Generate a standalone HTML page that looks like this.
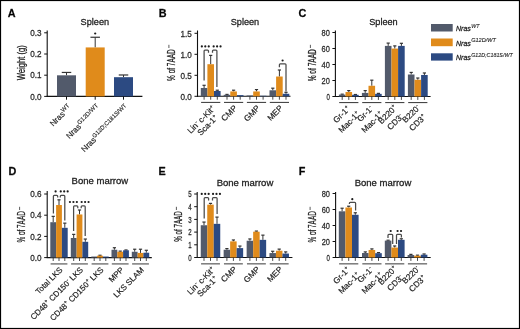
<!DOCTYPE html>
<html><head><meta charset="utf-8"><style>
html,body{margin:0;padding:0;background:#fff;}
body{width:520px;height:329px;overflow:hidden;font-family:"Liberation Sans", sans-serif;}
svg{display:block;will-change:transform;}
text{stroke:#222;stroke-width:0.28px;stroke-linejoin:round;}
</style></head><body>
<svg width="520" height="329" viewBox="0 0 520 329" font-family='"Liberation Sans", sans-serif'>
<rect x="0" y="0" width="520" height="329" fill="#fff"/>
<rect x="0.5" y="0.5" width="519" height="328" fill="none" stroke="#000" stroke-width="1.2"/>
<text x="7.8" y="16.8" font-size="11.8" font-weight="bold" fill="#000" transform="translate(7.8,0) scale(0.92,1) translate(-7.8,0)">A</text>
<text x="158.8" y="16.8" font-size="11.8" font-weight="bold" fill="#000" transform="translate(158.8,0) scale(0.92,1) translate(-158.8,0)">B</text>
<text x="298.6" y="16.9" font-size="11.8" font-weight="bold" fill="#000" transform="translate(298.6,0) scale(0.92,1) translate(-298.6,0)">C</text>
<text x="8.6" y="174.8" font-size="11.8" font-weight="bold" fill="#000" transform="translate(8.6,0) scale(0.92,1) translate(-8.6,0)">D</text>
<text x="158.6" y="174.9" font-size="11.8" font-weight="bold" fill="#000" transform="translate(158.6,0) scale(0.92,1) translate(-158.6,0)">E</text>
<text x="298.8" y="174.8" font-size="11.8" font-weight="bold" fill="#000" transform="translate(298.8,0) scale(0.92,1) translate(-298.8,0)">F</text>
<text x="80.6" y="24.5" font-size="9.6" text-anchor="start" font-weight="normal" font-style="normal" fill="#222" textLength="28.5" lengthAdjust="spacingAndGlyphs">Spleen</text>
<text x="230.7" y="24.7" font-size="9.6" text-anchor="start" font-weight="normal" font-style="normal" fill="#222" textLength="28.5" lengthAdjust="spacingAndGlyphs">Spleen</text>
<text x="369.2" y="24.7" font-size="9.6" text-anchor="start" font-weight="normal" font-style="normal" fill="#222" textLength="28.5" lengthAdjust="spacingAndGlyphs">Spleen</text>
<text x="71.6" y="183.5" font-size="9.6" text-anchor="start" font-weight="normal" font-style="normal" fill="#222" textLength="56.6" lengthAdjust="spacingAndGlyphs">Bone marrow</text>
<text x="216.7" y="186.1" font-size="9.6" text-anchor="start" font-weight="normal" font-style="normal" fill="#222" textLength="56.6" lengthAdjust="spacingAndGlyphs">Bone marrow</text>
<text x="354.7" y="186.1" font-size="9.6" text-anchor="start" font-weight="normal" font-style="normal" fill="#222" textLength="56.6" lengthAdjust="spacingAndGlyphs">Bone marrow</text>
<line x1="47.2" y1="30.5" x2="47.2" y2="96.9" stroke="#111" stroke-width="1.1"/>
<line x1="46.7" y1="96.4" x2="142.4" y2="96.4" stroke="#111" stroke-width="1.1"/>
<line x1="44.2" y1="96.4" x2="47.2" y2="96.4" stroke="#111" stroke-width="1"/>
<text x="41.6" y="99.60000000000001" font-size="9.2" text-anchor="end" font-weight="normal" font-style="normal" fill="#333" textLength="11.3" lengthAdjust="spacingAndGlyphs">0.0</text>
<line x1="44.2" y1="75.2" x2="47.2" y2="75.2" stroke="#111" stroke-width="1"/>
<text x="41.6" y="78.4" font-size="9.2" text-anchor="end" font-weight="normal" font-style="normal" fill="#333" textLength="11.3" lengthAdjust="spacingAndGlyphs">0.1</text>
<line x1="44.2" y1="54.0" x2="47.2" y2="54.0" stroke="#111" stroke-width="1"/>
<text x="41.6" y="57.2" font-size="9.2" text-anchor="end" font-weight="normal" font-style="normal" fill="#333" textLength="11.3" lengthAdjust="spacingAndGlyphs">0.2</text>
<line x1="44.2" y1="32.80000000000001" x2="47.2" y2="32.80000000000001" stroke="#111" stroke-width="1"/>
<text x="41.6" y="36.000000000000014" font-size="9.2" text-anchor="end" font-weight="normal" font-style="normal" fill="#333" textLength="11.3" lengthAdjust="spacingAndGlyphs">0.3</text>
<line x1="66.5" y1="75.30600000000001" x2="66.5" y2="72.444" stroke="#333" stroke-width="1"/>
<line x1="61.75" y1="72.444" x2="71.25" y2="72.444" stroke="#333" stroke-width="1.2"/>
<rect x="57.00" y="75.31" width="19.00" height="21.09" fill="#525a6b"/>
<line x1="66.5" y1="96.4" x2="66.5" y2="99.7" stroke="#111" stroke-width="1"/>
<line x1="95.2" y1="47.428000000000004" x2="95.2" y2="37.252" stroke="#333" stroke-width="1"/>
<line x1="90.45" y1="37.252" x2="99.95" y2="37.252" stroke="#333" stroke-width="1.2"/>
<rect x="85.70" y="47.43" width="19.00" height="48.97" fill="#e08b1b"/>
<line x1="95.2" y1="96.4" x2="95.2" y2="99.7" stroke="#111" stroke-width="1"/>
<line x1="123.5" y1="77.1928" x2="123.5" y2="74.988" stroke="#333" stroke-width="1"/>
<line x1="118.75" y1="74.988" x2="128.25" y2="74.988" stroke="#333" stroke-width="1.2"/>
<rect x="114.00" y="77.19" width="19.00" height="19.21" fill="#2c4a82"/>
<line x1="123.5" y1="96.4" x2="123.5" y2="99.7" stroke="#111" stroke-width="1"/>
<circle cx="95.20" cy="33.50" r="1.1" fill="#1a1a1a"/>
<g transform="translate(25.0,80.3) rotate(-90)"><text x="0" y="0" font-size="10" fill="#222" textLength="35" lengthAdjust="spacingAndGlyphs">Weight (g)</text></g>
<g transform="translate(72.0,108.0) rotate(-45)">
<text x="0" y="0" font-size="8.1" text-anchor="end" fill="#222" style="stroke-width:0.18px">Nras<tspan font-size="6.1" style="baseline-shift:3.0px;stroke-width:0.12px">WT</tspan></text>
</g>
<g transform="translate(100.7,108.0) rotate(-45)">
<text x="0" y="0" font-size="8.1" text-anchor="end" fill="#222" style="stroke-width:0.18px">Nras<tspan font-size="6.1" style="baseline-shift:3.0px;stroke-width:0.12px">G12D/WT</tspan></text>
</g>
<g transform="translate(129.0,108.0) rotate(-45)">
<text x="0" y="0" font-size="8.1" text-anchor="end" fill="#222" style="stroke-width:0.18px">Nras<tspan font-size="5.9" style="baseline-shift:3.0px;stroke-width:0.12px">G12D;C181S/WT</tspan></text>
</g>
<line x1="197.5" y1="30.5" x2="197.5" y2="96.8" stroke="#111" stroke-width="1.1"/>
<line x1="197.0" y1="96.3" x2="290.5" y2="96.3" stroke="#111" stroke-width="1.1"/>
<line x1="194.5" y1="96.3" x2="197.5" y2="96.3" stroke="#111" stroke-width="1"/>
<text x="191.9" y="99.5" font-size="9.2" text-anchor="end" font-weight="normal" font-style="normal" fill="#333" textLength="11.3" lengthAdjust="spacingAndGlyphs">0.0</text>
<line x1="194.5" y1="75.3" x2="197.5" y2="75.3" stroke="#111" stroke-width="1"/>
<text x="191.9" y="78.5" font-size="9.2" text-anchor="end" font-weight="normal" font-style="normal" fill="#333" textLength="11.3" lengthAdjust="spacingAndGlyphs">0.5</text>
<line x1="194.5" y1="54.3" x2="197.5" y2="54.3" stroke="#111" stroke-width="1"/>
<text x="191.9" y="57.5" font-size="9.2" text-anchor="end" font-weight="normal" font-style="normal" fill="#333" textLength="11.3" lengthAdjust="spacingAndGlyphs">1.0</text>
<line x1="194.5" y1="33.3" x2="197.5" y2="33.3" stroke="#111" stroke-width="1"/>
<text x="191.9" y="36.5" font-size="9.2" text-anchor="end" font-weight="normal" font-style="normal" fill="#333" textLength="11.3" lengthAdjust="spacingAndGlyphs">1.5</text>
<line x1="204.1" y1="87.984" x2="204.1" y2="85.29599999999999" stroke="#333" stroke-width="1"/>
<line x1="202.5" y1="85.29599999999999" x2="205.7" y2="85.29599999999999" stroke="#333" stroke-width="1.2"/>
<rect x="200.80" y="87.98" width="6.60" height="8.32" fill="#525a6b"/>
<line x1="204.1" y1="96.3" x2="204.1" y2="99.7" stroke="#2a2a2a" stroke-width="0.85"/>
<line x1="210.7" y1="64.21199999999999" x2="210.7" y2="55.391999999999996" stroke="#333" stroke-width="1"/>
<line x1="209.1" y1="55.391999999999996" x2="212.29999999999998" y2="55.391999999999996" stroke="#333" stroke-width="1.2"/>
<rect x="207.40" y="64.21" width="6.60" height="32.09" fill="#e08b1b"/>
<line x1="210.7" y1="96.3" x2="210.7" y2="99.7" stroke="#2a2a2a" stroke-width="0.85"/>
<line x1="217.29999999999998" y1="91.008" x2="217.29999999999998" y2="90.21" stroke="#333" stroke-width="1"/>
<line x1="215.7" y1="90.21" x2="218.89999999999998" y2="90.21" stroke="#333" stroke-width="1.2"/>
<rect x="214.00" y="91.01" width="6.60" height="5.29" fill="#2c4a82"/>
<line x1="217.29999999999998" y1="96.3" x2="217.29999999999998" y2="99.7" stroke="#2a2a2a" stroke-width="0.85"/>
<line x1="201.1" y1="102.39999999999999" x2="220.29999999999998" y2="102.39999999999999" stroke="#333" stroke-width="1.0"/>
<line x1="227.0" y1="94.83" x2="227.0" y2="94.41" stroke="#333" stroke-width="1"/>
<line x1="225.4" y1="94.41" x2="228.6" y2="94.41" stroke="#333" stroke-width="1.2"/>
<rect x="223.70" y="94.83" width="6.60" height="1.47" fill="#525a6b"/>
<line x1="227.0" y1="96.3" x2="227.0" y2="99.7" stroke="#2a2a2a" stroke-width="0.85"/>
<line x1="233.6" y1="91.428" x2="233.6" y2="90.21" stroke="#333" stroke-width="1"/>
<line x1="232.0" y1="90.21" x2="235.2" y2="90.21" stroke="#333" stroke-width="1.2"/>
<rect x="230.30" y="91.43" width="6.60" height="4.87" fill="#e08b1b"/>
<line x1="233.6" y1="96.3" x2="233.6" y2="99.7" stroke="#2a2a2a" stroke-width="0.85"/>
<rect x="236.90" y="95.12" width="6.60" height="1.18" fill="#2c4a82"/>
<line x1="240.2" y1="96.3" x2="240.2" y2="99.7" stroke="#2a2a2a" stroke-width="0.85"/>
<line x1="224.0" y1="102.39999999999999" x2="243.2" y2="102.39999999999999" stroke="#333" stroke-width="1.0"/>
<rect x="246.60" y="95.46" width="6.60" height="0.84" fill="#525a6b"/>
<line x1="249.9" y1="96.3" x2="249.9" y2="99.7" stroke="#2a2a2a" stroke-width="0.85"/>
<line x1="256.5" y1="91.428" x2="256.5" y2="89.58" stroke="#333" stroke-width="1"/>
<line x1="254.9" y1="89.58" x2="258.1" y2="89.58" stroke="#333" stroke-width="1.2"/>
<rect x="253.20" y="91.43" width="6.60" height="4.87" fill="#e08b1b"/>
<line x1="256.5" y1="96.3" x2="256.5" y2="99.7" stroke="#2a2a2a" stroke-width="0.85"/>
<rect x="259.80" y="95.80" width="6.60" height="0.50" fill="#2c4a82"/>
<line x1="263.1" y1="96.3" x2="263.1" y2="99.7" stroke="#2a2a2a" stroke-width="0.85"/>
<line x1="246.9" y1="102.39999999999999" x2="266.09999999999997" y2="102.39999999999999" stroke="#333" stroke-width="1.0"/>
<line x1="272.79999999999995" y1="90.294" x2="272.79999999999995" y2="88.194" stroke="#333" stroke-width="1"/>
<line x1="271.19999999999993" y1="88.194" x2="274.4" y2="88.194" stroke="#333" stroke-width="1.2"/>
<rect x="269.50" y="90.29" width="6.60" height="6.01" fill="#525a6b"/>
<line x1="272.79999999999995" y1="96.3" x2="272.79999999999995" y2="99.7" stroke="#2a2a2a" stroke-width="0.85"/>
<line x1="279.4" y1="76.518" x2="279.4" y2="70.008" stroke="#333" stroke-width="1"/>
<line x1="277.79999999999995" y1="70.008" x2="281.0" y2="70.008" stroke="#333" stroke-width="1.2"/>
<rect x="276.10" y="76.52" width="6.60" height="19.78" fill="#e08b1b"/>
<line x1="279.4" y1="96.3" x2="279.4" y2="99.7" stroke="#2a2a2a" stroke-width="0.85"/>
<line x1="286.0" y1="93.78" x2="286.0" y2="92.31" stroke="#333" stroke-width="1"/>
<line x1="284.4" y1="92.31" x2="287.6" y2="92.31" stroke="#333" stroke-width="1.2"/>
<rect x="282.70" y="93.78" width="6.60" height="2.52" fill="#2c4a82"/>
<line x1="286.0" y1="96.3" x2="286.0" y2="99.7" stroke="#2a2a2a" stroke-width="0.85"/>
<line x1="269.8" y1="102.39999999999999" x2="288.99999999999994" y2="102.39999999999999" stroke="#333" stroke-width="1.0"/>
<path d="M204.1,80.5 L204.1,51.1 Q204.1,50.2 205.0,50.2 L207.6,50.2 Q208.5,50.2 208.5,51.1 L208.5,52.8" fill="none" stroke="#4a4a4a" stroke-width="1.25"/>
<path d="M212.5,52.8 L212.5,51.1 Q212.5,50.2 213.4,50.2 L216.0,50.2 Q216.9,50.2 216.9,51.1 L216.9,86.9" fill="none" stroke="#4a4a4a" stroke-width="1.25"/>
<circle cx="201.85" cy="46.40" r="1.1" fill="#1a1a1a"/>
<circle cx="205.30" cy="46.40" r="1.1" fill="#1a1a1a"/>
<circle cx="208.75" cy="46.40" r="1.1" fill="#1a1a1a"/>
<circle cx="213.65" cy="46.40" r="1.1" fill="#1a1a1a"/>
<circle cx="217.10" cy="46.40" r="1.1" fill="#1a1a1a"/>
<circle cx="220.55" cy="46.40" r="1.1" fill="#1a1a1a"/>
<path d="M279.4,67.2 L279.4,64.7 Q279.4,63.8 280.29999999999995,63.8 L285.1,63.8 Q286.0,63.8 286.0,64.7 L286.0,91.6" fill="none" stroke="#4a4a4a" stroke-width="1.25"/>
<circle cx="282.60" cy="60.50" r="1.1" fill="#1a1a1a"/>
<g transform="translate(174.5,80.9) rotate(-90)">
<text x="0" y="0" font-size="10.8" fill="#222" textLength="31.70" lengthAdjust="spacingAndGlyphs">% of 7AAD</text>
<line x1="32.90" y1="-5.6" x2="36.10" y2="-5.6" stroke="#333" stroke-width="0.8"/>
</g>
<line x1="335.4" y1="30.5" x2="335.4" y2="97.0" stroke="#111" stroke-width="1.1"/>
<line x1="334.9" y1="96.5" x2="430.6" y2="96.5" stroke="#111" stroke-width="1.1"/>
<line x1="332.4" y1="96.5" x2="335.4" y2="96.5" stroke="#111" stroke-width="1"/>
<text x="329.79999999999995" y="99.7" font-size="9.2" text-anchor="end" font-weight="normal" font-style="normal" fill="#333" textLength="3.4" lengthAdjust="spacingAndGlyphs">0</text>
<line x1="332.4" y1="80.5" x2="335.4" y2="80.5" stroke="#111" stroke-width="1"/>
<text x="329.79999999999995" y="83.7" font-size="9.2" text-anchor="end" font-weight="normal" font-style="normal" fill="#333" textLength="8.3" lengthAdjust="spacingAndGlyphs">20</text>
<line x1="332.4" y1="64.5" x2="335.4" y2="64.5" stroke="#111" stroke-width="1"/>
<text x="329.79999999999995" y="67.7" font-size="9.2" text-anchor="end" font-weight="normal" font-style="normal" fill="#333" textLength="8.3" lengthAdjust="spacingAndGlyphs">40</text>
<line x1="332.4" y1="48.5" x2="335.4" y2="48.5" stroke="#111" stroke-width="1"/>
<text x="329.79999999999995" y="51.7" font-size="9.2" text-anchor="end" font-weight="normal" font-style="normal" fill="#333" textLength="8.3" lengthAdjust="spacingAndGlyphs">60</text>
<line x1="332.4" y1="32.5" x2="335.4" y2="32.5" stroke="#111" stroke-width="1"/>
<text x="329.79999999999995" y="35.7" font-size="9.2" text-anchor="end" font-weight="normal" font-style="normal" fill="#333" textLength="8.3" lengthAdjust="spacingAndGlyphs">80</text>
<line x1="342.2" y1="94.58" x2="342.2" y2="94.18" stroke="#333" stroke-width="1"/>
<line x1="340.59999999999997" y1="94.18" x2="343.8" y2="94.18" stroke="#333" stroke-width="1.2"/>
<rect x="338.90" y="94.58" width="6.60" height="1.92" fill="#525a6b"/>
<line x1="342.2" y1="96.5" x2="342.2" y2="99.9" stroke="#2a2a2a" stroke-width="0.85"/>
<line x1="348.8" y1="92.02" x2="348.8" y2="90.58" stroke="#333" stroke-width="1"/>
<line x1="347.2" y1="90.58" x2="350.40000000000003" y2="90.58" stroke="#333" stroke-width="1.2"/>
<rect x="345.50" y="92.02" width="6.60" height="4.48" fill="#e08b1b"/>
<line x1="348.8" y1="96.5" x2="348.8" y2="99.9" stroke="#2a2a2a" stroke-width="0.85"/>
<line x1="355.40000000000003" y1="94.82" x2="355.40000000000003" y2="94.5" stroke="#333" stroke-width="1"/>
<line x1="353.8" y1="94.5" x2="357.00000000000006" y2="94.5" stroke="#333" stroke-width="1.2"/>
<rect x="352.10" y="94.82" width="6.60" height="1.68" fill="#2c4a82"/>
<line x1="355.40000000000003" y1="96.5" x2="355.40000000000003" y2="99.9" stroke="#2a2a2a" stroke-width="0.85"/>
<line x1="339.20000000000005" y1="102.6" x2="358.4" y2="102.6" stroke="#333" stroke-width="1.0"/>
<line x1="365.2" y1="92.9" x2="365.2" y2="90.58" stroke="#333" stroke-width="1"/>
<line x1="363.59999999999997" y1="90.58" x2="366.8" y2="90.58" stroke="#333" stroke-width="1.2"/>
<rect x="361.90" y="92.90" width="6.60" height="3.60" fill="#525a6b"/>
<line x1="365.2" y1="96.5" x2="365.2" y2="99.9" stroke="#2a2a2a" stroke-width="0.85"/>
<line x1="371.8" y1="85.78" x2="371.8" y2="80.18" stroke="#333" stroke-width="1"/>
<line x1="370.2" y1="80.18" x2="373.40000000000003" y2="80.18" stroke="#333" stroke-width="1.2"/>
<rect x="368.50" y="85.78" width="6.60" height="10.72" fill="#e08b1b"/>
<line x1="371.8" y1="96.5" x2="371.8" y2="99.9" stroke="#2a2a2a" stroke-width="0.85"/>
<line x1="378.40000000000003" y1="93.86" x2="378.40000000000003" y2="93.38" stroke="#333" stroke-width="1"/>
<line x1="376.8" y1="93.38" x2="380.00000000000006" y2="93.38" stroke="#333" stroke-width="1.2"/>
<rect x="375.10" y="93.86" width="6.60" height="2.64" fill="#2c4a82"/>
<line x1="378.40000000000003" y1="96.5" x2="378.40000000000003" y2="99.9" stroke="#2a2a2a" stroke-width="0.85"/>
<line x1="362.20000000000005" y1="102.6" x2="381.4" y2="102.6" stroke="#333" stroke-width="1.0"/>
<line x1="388.2" y1="45.9" x2="388.2" y2="43.099999999999994" stroke="#333" stroke-width="1"/>
<line x1="386.59999999999997" y1="43.099999999999994" x2="389.8" y2="43.099999999999994" stroke="#333" stroke-width="1.2"/>
<rect x="384.90" y="45.90" width="6.60" height="50.60" fill="#525a6b"/>
<line x1="388.2" y1="96.5" x2="388.2" y2="99.9" stroke="#2a2a2a" stroke-width="0.85"/>
<line x1="394.8" y1="48.58" x2="394.8" y2="45.9" stroke="#333" stroke-width="1"/>
<line x1="393.2" y1="45.9" x2="396.40000000000003" y2="45.9" stroke="#333" stroke-width="1.2"/>
<rect x="391.50" y="48.58" width="6.60" height="47.92" fill="#e08b1b"/>
<line x1="394.8" y1="96.5" x2="394.8" y2="99.9" stroke="#2a2a2a" stroke-width="0.85"/>
<line x1="401.40000000000003" y1="45.9" x2="401.40000000000003" y2="43.3" stroke="#333" stroke-width="1"/>
<line x1="399.8" y1="43.3" x2="403.00000000000006" y2="43.3" stroke="#333" stroke-width="1.2"/>
<rect x="398.10" y="45.90" width="6.60" height="50.60" fill="#2c4a82"/>
<line x1="401.40000000000003" y1="96.5" x2="401.40000000000003" y2="99.9" stroke="#2a2a2a" stroke-width="0.85"/>
<line x1="385.20000000000005" y1="102.6" x2="404.4" y2="102.6" stroke="#333" stroke-width="1.0"/>
<line x1="411.2" y1="74.5" x2="411.2" y2="72.42" stroke="#333" stroke-width="1"/>
<line x1="409.59999999999997" y1="72.42" x2="412.8" y2="72.42" stroke="#333" stroke-width="1.2"/>
<rect x="407.90" y="74.50" width="6.60" height="22.00" fill="#525a6b"/>
<line x1="411.2" y1="96.5" x2="411.2" y2="99.9" stroke="#2a2a2a" stroke-width="0.85"/>
<line x1="417.8" y1="79.78" x2="417.8" y2="78.02" stroke="#333" stroke-width="1"/>
<line x1="416.2" y1="78.02" x2="419.40000000000003" y2="78.02" stroke="#333" stroke-width="1.2"/>
<rect x="414.50" y="79.78" width="6.60" height="16.72" fill="#e08b1b"/>
<line x1="417.8" y1="96.5" x2="417.8" y2="99.9" stroke="#2a2a2a" stroke-width="0.85"/>
<line x1="424.40000000000003" y1="74.98" x2="424.40000000000003" y2="72.98" stroke="#333" stroke-width="1"/>
<line x1="422.8" y1="72.98" x2="426.00000000000006" y2="72.98" stroke="#333" stroke-width="1.2"/>
<rect x="421.10" y="74.98" width="6.60" height="21.52" fill="#2c4a82"/>
<line x1="424.40000000000003" y1="96.5" x2="424.40000000000003" y2="99.9" stroke="#2a2a2a" stroke-width="0.85"/>
<line x1="408.20000000000005" y1="102.6" x2="427.4" y2="102.6" stroke="#333" stroke-width="1.0"/>
<g transform="translate(316.0,81.3) rotate(-90)">
<text x="0" y="0" font-size="10.8" fill="#222" textLength="32.10" lengthAdjust="spacingAndGlyphs">% of 7AAD</text>
<line x1="33.30" y1="-5.6" x2="36.50" y2="-5.6" stroke="#333" stroke-width="0.8"/>
</g>
<line x1="47.2" y1="191.0" x2="47.2" y2="258.1" stroke="#111" stroke-width="1.1"/>
<line x1="46.7" y1="257.6" x2="151.8" y2="257.6" stroke="#111" stroke-width="1.1"/>
<line x1="44.2" y1="257.6" x2="47.2" y2="257.6" stroke="#111" stroke-width="1"/>
<text x="41.6" y="260.8" font-size="9.2" text-anchor="end" font-weight="normal" font-style="normal" fill="#333" textLength="11.3" lengthAdjust="spacingAndGlyphs">0.0</text>
<line x1="44.2" y1="236.40000000000003" x2="47.2" y2="236.40000000000003" stroke="#111" stroke-width="1"/>
<text x="41.6" y="239.60000000000002" font-size="9.2" text-anchor="end" font-weight="normal" font-style="normal" fill="#333" textLength="11.3" lengthAdjust="spacingAndGlyphs">0.2</text>
<line x1="44.2" y1="215.20000000000002" x2="47.2" y2="215.20000000000002" stroke="#111" stroke-width="1"/>
<text x="41.6" y="218.4" font-size="9.2" text-anchor="end" font-weight="normal" font-style="normal" fill="#333" textLength="11.3" lengthAdjust="spacingAndGlyphs">0.4</text>
<line x1="44.2" y1="194.00000000000003" x2="47.2" y2="194.00000000000003" stroke="#111" stroke-width="1"/>
<text x="41.6" y="197.20000000000002" font-size="9.2" text-anchor="end" font-weight="normal" font-style="normal" fill="#333" textLength="11.3" lengthAdjust="spacingAndGlyphs">0.6</text>
<line x1="53.2" y1="222.19600000000003" x2="53.2" y2="216.366" stroke="#333" stroke-width="1"/>
<line x1="51.6" y1="216.366" x2="54.800000000000004" y2="216.366" stroke="#333" stroke-width="1.2"/>
<rect x="50.30" y="222.20" width="5.80" height="35.40" fill="#525a6b"/>
<line x1="53.2" y1="257.6" x2="53.2" y2="261.0" stroke="#2a2a2a" stroke-width="0.85"/>
<line x1="59.0" y1="205.02400000000003" x2="59.0" y2="199.83" stroke="#333" stroke-width="1"/>
<line x1="57.4" y1="199.83" x2="60.6" y2="199.83" stroke="#333" stroke-width="1.2"/>
<rect x="56.10" y="205.02" width="5.80" height="52.58" fill="#e08b1b"/>
<line x1="59.0" y1="257.6" x2="59.0" y2="261.0" stroke="#2a2a2a" stroke-width="0.85"/>
<line x1="64.8" y1="227.81400000000002" x2="64.8" y2="223.15000000000003" stroke="#333" stroke-width="1"/>
<line x1="63.199999999999996" y1="223.15000000000003" x2="66.39999999999999" y2="223.15000000000003" stroke="#333" stroke-width="1.2"/>
<rect x="61.90" y="227.81" width="5.80" height="29.79" fill="#2c4a82"/>
<line x1="64.8" y1="257.6" x2="64.8" y2="261.0" stroke="#2a2a2a" stroke-width="0.85"/>
<line x1="50.599999999999994" y1="263.90000000000003" x2="67.4" y2="263.90000000000003" stroke="#7a7a7a" stroke-width="1.5"/>
<line x1="73.7" y1="237.99" x2="73.7" y2="234.38600000000002" stroke="#333" stroke-width="1"/>
<line x1="72.10000000000001" y1="234.38600000000002" x2="75.3" y2="234.38600000000002" stroke="#333" stroke-width="1.2"/>
<rect x="70.80" y="237.99" width="5.80" height="19.61" fill="#525a6b"/>
<line x1="73.7" y1="257.6" x2="73.7" y2="261.0" stroke="#2a2a2a" stroke-width="0.85"/>
<line x1="79.5" y1="214.45800000000003" x2="79.5" y2="210.00600000000003" stroke="#333" stroke-width="1"/>
<line x1="77.9" y1="210.00600000000003" x2="81.1" y2="210.00600000000003" stroke="#333" stroke-width="1.2"/>
<rect x="76.60" y="214.46" width="5.80" height="43.14" fill="#e08b1b"/>
<line x1="79.5" y1="257.6" x2="79.5" y2="261.0" stroke="#2a2a2a" stroke-width="0.85"/>
<line x1="85.3" y1="241.806" x2="85.3" y2="239.05" stroke="#333" stroke-width="1"/>
<line x1="83.7" y1="239.05" x2="86.89999999999999" y2="239.05" stroke="#333" stroke-width="1.2"/>
<rect x="82.40" y="241.81" width="5.80" height="15.79" fill="#2c4a82"/>
<line x1="85.3" y1="257.6" x2="85.3" y2="261.0" stroke="#2a2a2a" stroke-width="0.85"/>
<line x1="71.1" y1="263.90000000000003" x2="87.9" y2="263.90000000000003" stroke="#7a7a7a" stroke-width="1.5"/>
<rect x="91.30" y="256.54" width="5.80" height="1.06" fill="#525a6b"/>
<line x1="94.2" y1="257.6" x2="94.2" y2="261.0" stroke="#2a2a2a" stroke-width="0.85"/>
<line x1="100.0" y1="255.69200000000004" x2="100.0" y2="255.26800000000003" stroke="#333" stroke-width="1"/>
<line x1="98.4" y1="255.26800000000003" x2="101.6" y2="255.26800000000003" stroke="#333" stroke-width="1.2"/>
<rect x="97.10" y="255.69" width="5.80" height="1.91" fill="#e08b1b"/>
<line x1="100.0" y1="257.6" x2="100.0" y2="261.0" stroke="#2a2a2a" stroke-width="0.85"/>
<rect x="102.90" y="256.54" width="5.80" height="1.06" fill="#2c4a82"/>
<line x1="105.8" y1="257.6" x2="105.8" y2="261.0" stroke="#2a2a2a" stroke-width="0.85"/>
<line x1="91.6" y1="263.90000000000003" x2="108.4" y2="263.90000000000003" stroke="#7a7a7a" stroke-width="1.5"/>
<line x1="114.4" y1="249.75600000000003" x2="114.4" y2="247.74200000000002" stroke="#333" stroke-width="1"/>
<line x1="112.80000000000001" y1="247.74200000000002" x2="116.0" y2="247.74200000000002" stroke="#333" stroke-width="1.2"/>
<rect x="111.50" y="249.76" width="5.80" height="7.84" fill="#525a6b"/>
<line x1="114.4" y1="257.6" x2="114.4" y2="261.0" stroke="#2a2a2a" stroke-width="0.85"/>
<line x1="120.2" y1="251.77" x2="120.2" y2="251.13400000000001" stroke="#333" stroke-width="1"/>
<line x1="118.60000000000001" y1="251.13400000000001" x2="121.8" y2="251.13400000000001" stroke="#333" stroke-width="1.2"/>
<rect x="117.30" y="251.77" width="5.80" height="5.83" fill="#e08b1b"/>
<line x1="120.2" y1="257.6" x2="120.2" y2="261.0" stroke="#2a2a2a" stroke-width="0.85"/>
<line x1="126.0" y1="250.28600000000003" x2="126.0" y2="249.96800000000002" stroke="#333" stroke-width="1"/>
<line x1="124.4" y1="249.96800000000002" x2="127.6" y2="249.96800000000002" stroke="#333" stroke-width="1.2"/>
<rect x="123.10" y="250.29" width="5.80" height="7.31" fill="#2c4a82"/>
<line x1="126.0" y1="257.6" x2="126.0" y2="261.0" stroke="#2a2a2a" stroke-width="0.85"/>
<line x1="111.8" y1="263.90000000000003" x2="128.6" y2="263.90000000000003" stroke="#7a7a7a" stroke-width="1.5"/>
<line x1="134.7" y1="251.77" x2="134.7" y2="249.22600000000003" stroke="#333" stroke-width="1"/>
<line x1="133.1" y1="249.22600000000003" x2="136.29999999999998" y2="249.22600000000003" stroke="#333" stroke-width="1.2"/>
<rect x="131.80" y="251.77" width="5.80" height="5.83" fill="#525a6b"/>
<line x1="134.7" y1="257.6" x2="134.7" y2="261.0" stroke="#2a2a2a" stroke-width="0.85"/>
<line x1="140.5" y1="252.93600000000004" x2="140.5" y2="249.22600000000003" stroke="#333" stroke-width="1"/>
<line x1="138.9" y1="249.22600000000003" x2="142.1" y2="249.22600000000003" stroke="#333" stroke-width="1.2"/>
<rect x="137.60" y="252.94" width="5.80" height="4.66" fill="#e08b1b"/>
<line x1="140.5" y1="257.6" x2="140.5" y2="261.0" stroke="#2a2a2a" stroke-width="0.85"/>
<line x1="146.3" y1="252.72400000000002" x2="146.3" y2="250.28600000000003" stroke="#333" stroke-width="1"/>
<line x1="144.70000000000002" y1="250.28600000000003" x2="147.9" y2="250.28600000000003" stroke="#333" stroke-width="1.2"/>
<rect x="143.40" y="252.72" width="5.80" height="4.88" fill="#2c4a82"/>
<line x1="146.3" y1="257.6" x2="146.3" y2="261.0" stroke="#2a2a2a" stroke-width="0.85"/>
<line x1="132.10000000000002" y1="263.90000000000003" x2="148.89999999999998" y2="263.90000000000003" stroke="#7a7a7a" stroke-width="1.5"/>
<path d="M53.4,213.5 L53.4,196.20000000000002 Q53.4,195.3 54.3,195.3 L56.800000000000004,195.3 Q57.7,195.3 57.7,196.20000000000002 L57.7,197.6" fill="none" stroke="#4a4a4a" stroke-width="1.25"/>
<path d="M60.3,197.6 L60.3,196.20000000000002 Q60.3,195.3 61.199999999999996,195.3 L63.9,195.3 Q64.8,195.3 64.8,196.20000000000002 L64.8,220.4" fill="none" stroke="#4a4a4a" stroke-width="1.25"/>
<circle cx="55.60" cy="191.40" r="1.1" fill="#1a1a1a"/>
<circle cx="60.75" cy="191.40" r="1.1" fill="#1a1a1a"/>
<circle cx="64.20" cy="191.40" r="1.1" fill="#1a1a1a"/>
<circle cx="67.65" cy="191.40" r="1.1" fill="#1a1a1a"/>
<path d="M73.6,231.0 L73.6,206.70000000000002 Q73.6,205.8 74.5,205.8 L76.89999999999999,205.8 Q77.8,205.8 77.8,206.70000000000002 L77.8,208.2" fill="none" stroke="#4a4a4a" stroke-width="1.25"/>
<path d="M81.2,208.2 L81.2,206.70000000000002 Q81.2,205.8 82.10000000000001,205.8 L84.3,205.8 Q85.2,205.8 85.2,206.70000000000002 L85.2,236.0" fill="none" stroke="#4a4a4a" stroke-width="1.25"/>
<circle cx="69.95" cy="202.00" r="1.1" fill="#1a1a1a"/>
<circle cx="73.40" cy="202.00" r="1.1" fill="#1a1a1a"/>
<circle cx="76.85" cy="202.00" r="1.1" fill="#1a1a1a"/>
<circle cx="81.65" cy="202.00" r="1.1" fill="#1a1a1a"/>
<circle cx="85.10" cy="202.00" r="1.1" fill="#1a1a1a"/>
<circle cx="88.55" cy="202.00" r="1.1" fill="#1a1a1a"/>
<g transform="translate(25.2,242.6) rotate(-90)">
<text x="0" y="0" font-size="10.8" fill="#222" textLength="31.40" lengthAdjust="spacingAndGlyphs">% of 7AAD</text>
<line x1="32.60" y1="-5.6" x2="35.80" y2="-5.6" stroke="#333" stroke-width="0.8"/>
</g>
<line x1="197.2" y1="192.0" x2="197.2" y2="258.0" stroke="#111" stroke-width="1.1"/>
<line x1="196.7" y1="257.5" x2="292.4" y2="257.5" stroke="#111" stroke-width="1.1"/>
<line x1="194.2" y1="257.5" x2="197.2" y2="257.5" stroke="#111" stroke-width="1"/>
<text x="191.6" y="260.7" font-size="9.2" text-anchor="end" font-weight="normal" font-style="normal" fill="#333" textLength="3.4" lengthAdjust="spacingAndGlyphs">0</text>
<line x1="194.2" y1="244.8" x2="197.2" y2="244.8" stroke="#111" stroke-width="1"/>
<text x="191.6" y="248.0" font-size="9.2" text-anchor="end" font-weight="normal" font-style="normal" fill="#333" textLength="3.4" lengthAdjust="spacingAndGlyphs">1</text>
<line x1="194.2" y1="232.1" x2="197.2" y2="232.1" stroke="#111" stroke-width="1"/>
<text x="191.6" y="235.29999999999998" font-size="9.2" text-anchor="end" font-weight="normal" font-style="normal" fill="#333" textLength="3.4" lengthAdjust="spacingAndGlyphs">2</text>
<line x1="194.2" y1="219.4" x2="197.2" y2="219.4" stroke="#111" stroke-width="1"/>
<text x="191.6" y="222.6" font-size="9.2" text-anchor="end" font-weight="normal" font-style="normal" fill="#333" textLength="3.4" lengthAdjust="spacingAndGlyphs">3</text>
<line x1="194.2" y1="206.7" x2="197.2" y2="206.7" stroke="#111" stroke-width="1"/>
<text x="191.6" y="209.89999999999998" font-size="9.2" text-anchor="end" font-weight="normal" font-style="normal" fill="#333" textLength="3.4" lengthAdjust="spacingAndGlyphs">4</text>
<line x1="194.2" y1="194.0" x2="197.2" y2="194.0" stroke="#111" stroke-width="1"/>
<text x="191.6" y="197.2" font-size="9.2" text-anchor="end" font-weight="normal" font-style="normal" fill="#333" textLength="3.4" lengthAdjust="spacingAndGlyphs">5</text>
<line x1="204.0" y1="225.24200000000002" x2="204.0" y2="222.067" stroke="#333" stroke-width="1"/>
<line x1="202.4" y1="222.067" x2="205.6" y2="222.067" stroke="#333" stroke-width="1.2"/>
<rect x="200.75" y="225.24" width="6.50" height="32.26" fill="#525a6b"/>
<line x1="204.0" y1="257.5" x2="204.0" y2="260.9" stroke="#2a2a2a" stroke-width="0.85"/>
<line x1="210.5" y1="204.668" x2="210.5" y2="203.398" stroke="#333" stroke-width="1"/>
<line x1="208.9" y1="203.398" x2="212.1" y2="203.398" stroke="#333" stroke-width="1.2"/>
<rect x="207.25" y="204.67" width="6.50" height="52.83" fill="#e08b1b"/>
<line x1="210.5" y1="257.5" x2="210.5" y2="260.9" stroke="#2a2a2a" stroke-width="0.85"/>
<line x1="217.0" y1="223.845" x2="217.0" y2="217.114" stroke="#333" stroke-width="1"/>
<line x1="215.4" y1="217.114" x2="218.6" y2="217.114" stroke="#333" stroke-width="1.2"/>
<rect x="213.75" y="223.84" width="6.50" height="33.66" fill="#2c4a82"/>
<line x1="217.0" y1="257.5" x2="217.0" y2="260.9" stroke="#2a2a2a" stroke-width="0.85"/>
<line x1="201.05" y1="263.8" x2="219.95" y2="263.8" stroke="#7a7a7a" stroke-width="1.5"/>
<line x1="226.9" y1="249.75300000000001" x2="226.9" y2="248.61" stroke="#333" stroke-width="1"/>
<line x1="225.3" y1="248.61" x2="228.5" y2="248.61" stroke="#333" stroke-width="1.2"/>
<rect x="223.65" y="249.75" width="6.50" height="7.75" fill="#525a6b"/>
<line x1="226.9" y1="257.5" x2="226.9" y2="260.9" stroke="#2a2a2a" stroke-width="0.85"/>
<line x1="233.4" y1="241.371" x2="233.4" y2="239.974" stroke="#333" stroke-width="1"/>
<line x1="231.8" y1="239.974" x2="235.0" y2="239.974" stroke="#333" stroke-width="1.2"/>
<rect x="230.15" y="241.37" width="6.50" height="16.13" fill="#e08b1b"/>
<line x1="233.4" y1="257.5" x2="233.4" y2="260.9" stroke="#2a2a2a" stroke-width="0.85"/>
<line x1="239.9" y1="248.102" x2="239.9" y2="246.07" stroke="#333" stroke-width="1"/>
<line x1="238.3" y1="246.07" x2="241.5" y2="246.07" stroke="#333" stroke-width="1.2"/>
<rect x="236.65" y="248.10" width="6.50" height="9.40" fill="#2c4a82"/>
<line x1="239.9" y1="257.5" x2="239.9" y2="260.9" stroke="#2a2a2a" stroke-width="0.85"/>
<line x1="223.95000000000002" y1="263.8" x2="242.85" y2="263.8" stroke="#7a7a7a" stroke-width="1.5"/>
<line x1="249.89999999999998" y1="240.736" x2="249.89999999999998" y2="238.958" stroke="#333" stroke-width="1"/>
<line x1="248.29999999999998" y1="238.958" x2="251.49999999999997" y2="238.958" stroke="#333" stroke-width="1.2"/>
<rect x="246.65" y="240.74" width="6.50" height="16.76" fill="#525a6b"/>
<line x1="249.89999999999998" y1="257.5" x2="249.89999999999998" y2="260.9" stroke="#2a2a2a" stroke-width="0.85"/>
<line x1="256.4" y1="231.719" x2="256.4" y2="231.084" stroke="#333" stroke-width="1"/>
<line x1="254.79999999999998" y1="231.084" x2="258.0" y2="231.084" stroke="#333" stroke-width="1.2"/>
<rect x="253.15" y="231.72" width="6.50" height="25.78" fill="#e08b1b"/>
<line x1="256.4" y1="257.5" x2="256.4" y2="260.9" stroke="#2a2a2a" stroke-width="0.85"/>
<line x1="262.9" y1="239.847" x2="262.9" y2="235.148" stroke="#333" stroke-width="1"/>
<line x1="261.29999999999995" y1="235.148" x2="264.5" y2="235.148" stroke="#333" stroke-width="1.2"/>
<rect x="259.65" y="239.85" width="6.50" height="17.65" fill="#2c4a82"/>
<line x1="262.9" y1="257.5" x2="262.9" y2="260.9" stroke="#2a2a2a" stroke-width="0.85"/>
<line x1="246.95" y1="263.8" x2="265.84999999999997" y2="263.8" stroke="#7a7a7a" stroke-width="1.5"/>
<line x1="272.7" y1="253.055" x2="272.7" y2="251.277" stroke="#333" stroke-width="1"/>
<line x1="271.09999999999997" y1="251.277" x2="274.3" y2="251.277" stroke="#333" stroke-width="1.2"/>
<rect x="269.45" y="253.06" width="6.50" height="4.44" fill="#525a6b"/>
<line x1="272.7" y1="257.5" x2="272.7" y2="260.9" stroke="#2a2a2a" stroke-width="0.85"/>
<line x1="279.2" y1="250.7055" x2="279.2" y2="249.118" stroke="#333" stroke-width="1"/>
<line x1="277.59999999999997" y1="249.118" x2="280.8" y2="249.118" stroke="#333" stroke-width="1.2"/>
<rect x="275.95" y="250.71" width="6.50" height="6.79" fill="#e08b1b"/>
<line x1="279.2" y1="257.5" x2="279.2" y2="260.9" stroke="#2a2a2a" stroke-width="0.85"/>
<line x1="285.7" y1="253.563" x2="285.7" y2="251.912" stroke="#333" stroke-width="1"/>
<line x1="284.09999999999997" y1="251.912" x2="287.3" y2="251.912" stroke="#333" stroke-width="1.2"/>
<rect x="282.45" y="253.56" width="6.50" height="3.94" fill="#2c4a82"/>
<line x1="285.7" y1="257.5" x2="285.7" y2="260.9" stroke="#2a2a2a" stroke-width="0.85"/>
<line x1="269.75" y1="263.8" x2="288.65" y2="263.8" stroke="#7a7a7a" stroke-width="1.5"/>
<path d="M204.2,218.5 L204.2,198.6 Q204.2,197.7 205.1,197.7 L207.7,197.7 Q208.6,197.7 208.6,198.6 L208.6,200.6" fill="none" stroke="#4a4a4a" stroke-width="1.25"/>
<path d="M212.5,200.6 L212.5,198.6 Q212.5,197.7 213.4,197.7 L216.2,197.7 Q217.1,197.7 217.1,198.6 L217.1,214.0" fill="none" stroke="#4a4a4a" stroke-width="1.25"/>
<circle cx="201.75" cy="193.90" r="1.1" fill="#1a1a1a"/>
<circle cx="205.20" cy="193.90" r="1.1" fill="#1a1a1a"/>
<circle cx="208.65" cy="193.90" r="1.1" fill="#1a1a1a"/>
<circle cx="213.05" cy="193.90" r="1.1" fill="#1a1a1a"/>
<circle cx="216.50" cy="193.90" r="1.1" fill="#1a1a1a"/>
<circle cx="219.95" cy="193.90" r="1.1" fill="#1a1a1a"/>
<g transform="translate(182.0,241.8) rotate(-90)">
<text x="0" y="0" font-size="10.8" fill="#222" textLength="30.60" lengthAdjust="spacingAndGlyphs">% of 7AAD</text>
<line x1="31.80" y1="-5.6" x2="35.00" y2="-5.6" stroke="#333" stroke-width="0.8"/>
</g>
<line x1="335.6" y1="192.0" x2="335.6" y2="258.0" stroke="#111" stroke-width="1.1"/>
<line x1="335.1" y1="257.5" x2="430.7" y2="257.5" stroke="#111" stroke-width="1.1"/>
<line x1="332.6" y1="257.5" x2="335.6" y2="257.5" stroke="#111" stroke-width="1"/>
<text x="330.0" y="260.7" font-size="9.2" text-anchor="end" font-weight="normal" font-style="normal" fill="#333" textLength="3.4" lengthAdjust="spacingAndGlyphs">0</text>
<line x1="332.6" y1="241.5" x2="335.6" y2="241.5" stroke="#111" stroke-width="1"/>
<text x="330.0" y="244.7" font-size="9.2" text-anchor="end" font-weight="normal" font-style="normal" fill="#333" textLength="8.3" lengthAdjust="spacingAndGlyphs">20</text>
<line x1="332.6" y1="225.5" x2="335.6" y2="225.5" stroke="#111" stroke-width="1"/>
<text x="330.0" y="228.7" font-size="9.2" text-anchor="end" font-weight="normal" font-style="normal" fill="#333" textLength="8.3" lengthAdjust="spacingAndGlyphs">40</text>
<line x1="332.6" y1="209.5" x2="335.6" y2="209.5" stroke="#111" stroke-width="1"/>
<text x="330.0" y="212.7" font-size="9.2" text-anchor="end" font-weight="normal" font-style="normal" fill="#333" textLength="8.3" lengthAdjust="spacingAndGlyphs">60</text>
<line x1="332.6" y1="193.5" x2="335.6" y2="193.5" stroke="#111" stroke-width="1"/>
<text x="330.0" y="196.7" font-size="9.2" text-anchor="end" font-weight="normal" font-style="normal" fill="#333" textLength="8.3" lengthAdjust="spacingAndGlyphs">80</text>
<line x1="342.09999999999997" y1="211.3" x2="342.09999999999997" y2="208.22" stroke="#333" stroke-width="1"/>
<line x1="340.49999999999994" y1="208.22" x2="343.7" y2="208.22" stroke="#333" stroke-width="1.2"/>
<rect x="338.80" y="211.30" width="6.60" height="46.20" fill="#525a6b"/>
<line x1="342.09999999999997" y1="257.5" x2="342.09999999999997" y2="260.9" stroke="#2a2a2a" stroke-width="0.85"/>
<line x1="348.7" y1="207.5" x2="348.7" y2="206.22" stroke="#333" stroke-width="1"/>
<line x1="347.09999999999997" y1="206.22" x2="350.3" y2="206.22" stroke="#333" stroke-width="1.2"/>
<rect x="345.40" y="207.50" width="6.60" height="50.00" fill="#e08b1b"/>
<line x1="348.7" y1="257.5" x2="348.7" y2="260.9" stroke="#2a2a2a" stroke-width="0.85"/>
<line x1="355.3" y1="214.78" x2="355.3" y2="212.78" stroke="#333" stroke-width="1"/>
<line x1="353.7" y1="212.78" x2="356.90000000000003" y2="212.78" stroke="#333" stroke-width="1.2"/>
<rect x="352.00" y="214.78" width="6.60" height="42.72" fill="#2c4a82"/>
<line x1="355.3" y1="257.5" x2="355.3" y2="260.9" stroke="#2a2a2a" stroke-width="0.85"/>
<line x1="339.1" y1="263.8" x2="358.29999999999995" y2="263.8" stroke="#7a7a7a" stroke-width="1.5"/>
<line x1="365.29999999999995" y1="253.02" x2="365.29999999999995" y2="251.9" stroke="#333" stroke-width="1"/>
<line x1="363.69999999999993" y1="251.9" x2="366.9" y2="251.9" stroke="#333" stroke-width="1.2"/>
<rect x="362.00" y="253.02" width="6.60" height="4.48" fill="#525a6b"/>
<line x1="365.29999999999995" y1="257.5" x2="365.29999999999995" y2="260.9" stroke="#2a2a2a" stroke-width="0.85"/>
<line x1="371.9" y1="249.98" x2="371.9" y2="248.9" stroke="#333" stroke-width="1"/>
<line x1="370.29999999999995" y1="248.9" x2="373.5" y2="248.9" stroke="#333" stroke-width="1.2"/>
<rect x="368.60" y="249.98" width="6.60" height="7.52" fill="#e08b1b"/>
<line x1="371.9" y1="257.5" x2="371.9" y2="260.9" stroke="#2a2a2a" stroke-width="0.85"/>
<line x1="378.5" y1="253.18" x2="378.5" y2="252.62" stroke="#333" stroke-width="1"/>
<line x1="376.9" y1="252.62" x2="380.1" y2="252.62" stroke="#333" stroke-width="1.2"/>
<rect x="375.20" y="253.18" width="6.60" height="4.32" fill="#2c4a82"/>
<line x1="378.5" y1="257.5" x2="378.5" y2="260.9" stroke="#2a2a2a" stroke-width="0.85"/>
<line x1="362.3" y1="263.8" x2="381.49999999999994" y2="263.8" stroke="#7a7a7a" stroke-width="1.5"/>
<line x1="388.09999999999997" y1="240.62" x2="388.09999999999997" y2="240.22" stroke="#333" stroke-width="1"/>
<line x1="386.49999999999994" y1="240.22" x2="389.7" y2="240.22" stroke="#333" stroke-width="1.2"/>
<rect x="384.80" y="240.62" width="6.60" height="16.88" fill="#525a6b"/>
<line x1="388.09999999999997" y1="257.5" x2="388.09999999999997" y2="260.9" stroke="#2a2a2a" stroke-width="0.85"/>
<line x1="394.7" y1="247.57999999999998" x2="394.7" y2="245.98" stroke="#333" stroke-width="1"/>
<line x1="393.09999999999997" y1="245.98" x2="396.3" y2="245.98" stroke="#333" stroke-width="1.2"/>
<rect x="391.40" y="247.58" width="6.60" height="9.92" fill="#e08b1b"/>
<line x1="394.7" y1="257.5" x2="394.7" y2="260.9" stroke="#2a2a2a" stroke-width="0.85"/>
<line x1="401.3" y1="239.82" x2="401.3" y2="238.78" stroke="#333" stroke-width="1"/>
<line x1="399.7" y1="238.78" x2="402.90000000000003" y2="238.78" stroke="#333" stroke-width="1.2"/>
<rect x="398.00" y="239.82" width="6.60" height="17.68" fill="#2c4a82"/>
<line x1="401.3" y1="257.5" x2="401.3" y2="260.9" stroke="#2a2a2a" stroke-width="0.85"/>
<line x1="385.1" y1="263.8" x2="404.29999999999995" y2="263.8" stroke="#7a7a7a" stroke-width="1.5"/>
<line x1="410.9" y1="255.02" x2="410.9" y2="254.38" stroke="#333" stroke-width="1"/>
<line x1="409.29999999999995" y1="254.38" x2="412.5" y2="254.38" stroke="#333" stroke-width="1.2"/>
<rect x="407.60" y="255.02" width="6.60" height="2.48" fill="#525a6b"/>
<line x1="410.9" y1="257.5" x2="410.9" y2="260.9" stroke="#2a2a2a" stroke-width="0.85"/>
<line x1="417.5" y1="255.74" x2="417.5" y2="255.18" stroke="#333" stroke-width="1"/>
<line x1="415.9" y1="255.18" x2="419.1" y2="255.18" stroke="#333" stroke-width="1.2"/>
<rect x="414.20" y="255.74" width="6.60" height="1.76" fill="#e08b1b"/>
<line x1="417.5" y1="257.5" x2="417.5" y2="260.9" stroke="#2a2a2a" stroke-width="0.85"/>
<line x1="424.1" y1="254.7" x2="424.1" y2="253.98" stroke="#333" stroke-width="1"/>
<line x1="422.5" y1="253.98" x2="425.70000000000005" y2="253.98" stroke="#333" stroke-width="1.2"/>
<rect x="420.80" y="254.70" width="6.60" height="2.80" fill="#2c4a82"/>
<line x1="424.1" y1="257.5" x2="424.1" y2="260.9" stroke="#2a2a2a" stroke-width="0.85"/>
<line x1="407.90000000000003" y1="263.8" x2="427.09999999999997" y2="263.8" stroke="#7a7a7a" stroke-width="1.5"/>
<path d="M349.4,204.1 L349.4,203.3 Q349.4,202.4 350.29999999999995,202.4 L354.70000000000005,202.4 Q355.6,202.4 355.6,203.3 L355.6,210.5" fill="none" stroke="#4a4a4a" stroke-width="1.25"/>
<circle cx="352.30" cy="199.20" r="1.1" fill="#1a1a1a"/>
<path d="M388.0,238.0 L388.0,235.3 Q388.0,234.4 388.9,234.4 L391.8,234.4 Q392.7,234.4 392.7,235.3 L392.7,244.0" fill="none" stroke="#4a4a4a" stroke-width="1.25"/>
<path d="M396.5,244.0 L396.5,235.3 Q396.5,234.4 397.4,234.4 L400.5,234.4 Q401.4,234.4 401.4,235.3 L401.4,237.5" fill="none" stroke="#4a4a4a" stroke-width="1.25"/>
<circle cx="390.70" cy="231.00" r="1.1" fill="#1a1a1a"/>
<circle cx="397.57" cy="231.00" r="1.1" fill="#1a1a1a"/>
<circle cx="401.03" cy="231.00" r="1.1" fill="#1a1a1a"/>
<g transform="translate(315.7,242.6) rotate(-90)">
<text x="0" y="0" font-size="10.8" fill="#222" textLength="31.40" lengthAdjust="spacingAndGlyphs">% of 7AAD</text>
<line x1="32.60" y1="-5.6" x2="35.80" y2="-5.6" stroke="#333" stroke-width="0.8"/>
</g>
<g transform="translate(214.7,108.6) rotate(-45)">
<text x="0.5" y="1.0" font-size="8.3" text-anchor="end" fill="#222" style="stroke-width:0.18px">Lin<tspan font-size="5.9" style="baseline-shift:3.5px;stroke-width:0.12px">-</tspan> c-Kit<tspan font-size="5.9" style="baseline-shift:3.5px;stroke-width:0.12px">+</tspan></text>
<text x="-4.2" y="9.6" font-size="8.3" text-anchor="end" fill="#222" style="stroke-width:0.18px">Sca-1<tspan font-size="5.9" style="baseline-shift:3.5px;stroke-width:0.12px">+</tspan></text>
</g>
<g transform="translate(237.6,108.6) rotate(-45)">
<text x="0" y="0" font-size="8.3" text-anchor="end" fill="#222" style="stroke-width:0.18px">CMP</text>
</g>
<g transform="translate(260.5,108.6) rotate(-45)">
<text x="0" y="0" font-size="8.3" text-anchor="end" fill="#222" style="stroke-width:0.18px">GMP</text>
</g>
<g transform="translate(283.4,108.6) rotate(-45)">
<text x="0" y="0" font-size="8.3" text-anchor="end" fill="#222" style="stroke-width:0.18px">MEP</text>
</g>
<g transform="translate(214.5,269.8) rotate(-45)">
<text x="0.5" y="1.0" font-size="8.3" text-anchor="end" fill="#222" style="stroke-width:0.18px">Lin<tspan font-size="5.9" style="baseline-shift:3.5px;stroke-width:0.12px">-</tspan> c-Kit<tspan font-size="5.9" style="baseline-shift:3.5px;stroke-width:0.12px">+</tspan></text>
<text x="-4.2" y="9.6" font-size="8.3" text-anchor="end" fill="#222" style="stroke-width:0.18px">Sca-1<tspan font-size="5.9" style="baseline-shift:3.5px;stroke-width:0.12px">+</tspan></text>
</g>
<g transform="translate(237.4,269.8) rotate(-45)">
<text x="0" y="0" font-size="8.3" text-anchor="end" fill="#222" style="stroke-width:0.18px">CMP</text>
</g>
<g transform="translate(260.4,269.8) rotate(-45)">
<text x="0" y="0" font-size="8.3" text-anchor="end" fill="#222" style="stroke-width:0.18px">GMP</text>
</g>
<g transform="translate(283.2,269.8) rotate(-45)">
<text x="0" y="0" font-size="8.3" text-anchor="end" fill="#222" style="stroke-width:0.18px">MEP</text>
</g>
<g transform="translate(352.8,108.8) rotate(-45)">
<text x="-1.8" y="-1.2" font-size="8.3" text-anchor="end" fill="#222" style="stroke-width:0.18px">Gr-1<tspan font-size="5.9" style="baseline-shift:3.5px;stroke-width:0.12px">+</tspan></text>
<text x="1.4" y="9.6" font-size="8.3" text-anchor="end" fill="#222" style="stroke-width:0.18px">Mac-1<tspan font-size="5.9" style="baseline-shift:3.5px;stroke-width:0.12px">+</tspan></text>
</g>
<g transform="translate(375.8,108.8) rotate(-45)">
<text x="-1.8" y="-1.2" font-size="8.3" text-anchor="end" fill="#222" style="stroke-width:0.18px">Gr-1<tspan font-size="5.9" style="baseline-shift:3.5px;stroke-width:0.12px">-</tspan></text>
<text x="1.4" y="9.6" font-size="8.3" text-anchor="end" fill="#222" style="stroke-width:0.18px">Mac-1<tspan font-size="5.9" style="baseline-shift:3.5px;stroke-width:0.12px">+</tspan></text>
</g>
<g transform="translate(398.8,108.8) rotate(-45)">
<text x="-0.4" y="-1.2" font-size="8.3" text-anchor="end" fill="#222" style="stroke-width:0.18px">B220<tspan font-size="5.9" style="baseline-shift:3.5px;stroke-width:0.12px">+</tspan></text>
<text x="-2.6" y="9.6" font-size="8.3" text-anchor="end" fill="#222" style="stroke-width:0.18px">CD3<tspan font-size="5.9" style="baseline-shift:3.5px;stroke-width:0.12px">-</tspan></text>
</g>
<g transform="translate(421.8,108.8) rotate(-45)">
<text x="-0.4" y="-1.2" font-size="8.3" text-anchor="end" fill="#222" style="stroke-width:0.18px">B220<tspan font-size="5.9" style="baseline-shift:3.5px;stroke-width:0.12px">-</tspan></text>
<text x="-2.6" y="9.6" font-size="8.3" text-anchor="end" fill="#222" style="stroke-width:0.18px">CD3<tspan font-size="5.9" style="baseline-shift:3.5px;stroke-width:0.12px">+</tspan></text>
</g>
<g transform="translate(352.7,269.8) rotate(-45)">
<text x="-1.8" y="-1.2" font-size="8.3" text-anchor="end" fill="#222" style="stroke-width:0.18px">Gr-1<tspan font-size="5.9" style="baseline-shift:3.5px;stroke-width:0.12px">+</tspan></text>
<text x="1.4" y="9.6" font-size="8.3" text-anchor="end" fill="#222" style="stroke-width:0.18px">Mac-1<tspan font-size="5.9" style="baseline-shift:3.5px;stroke-width:0.12px">+</tspan></text>
</g>
<g transform="translate(375.9,269.8) rotate(-45)">
<text x="-1.8" y="-1.2" font-size="8.3" text-anchor="end" fill="#222" style="stroke-width:0.18px">Gr-1<tspan font-size="5.9" style="baseline-shift:3.5px;stroke-width:0.12px">-</tspan></text>
<text x="1.4" y="9.6" font-size="8.3" text-anchor="end" fill="#222" style="stroke-width:0.18px">Mac-1<tspan font-size="5.9" style="baseline-shift:3.5px;stroke-width:0.12px">+</tspan></text>
</g>
<g transform="translate(398.7,269.8) rotate(-45)">
<text x="-0.4" y="-1.2" font-size="8.3" text-anchor="end" fill="#222" style="stroke-width:0.18px">B220<tspan font-size="5.9" style="baseline-shift:3.5px;stroke-width:0.12px">+</tspan></text>
<text x="-2.6" y="9.6" font-size="8.3" text-anchor="end" fill="#222" style="stroke-width:0.18px">CD3<tspan font-size="5.9" style="baseline-shift:3.5px;stroke-width:0.12px">-</tspan></text>
</g>
<g transform="translate(421.5,269.8) rotate(-45)">
<text x="-0.4" y="-1.2" font-size="8.3" text-anchor="end" fill="#222" style="stroke-width:0.18px">B220<tspan font-size="5.9" style="baseline-shift:3.5px;stroke-width:0.12px">-</tspan></text>
<text x="-2.6" y="9.6" font-size="8.3" text-anchor="end" fill="#222" style="stroke-width:0.18px">CD3<tspan font-size="5.9" style="baseline-shift:3.5px;stroke-width:0.12px">+</tspan></text>
</g>
<g transform="translate(63.0,270.5) rotate(-45)">
<text x="0" y="0" font-size="8.0" text-anchor="end" fill="#222" style="stroke-width:0.18px">Total LKS</text>
</g>
<g transform="translate(83.5,270.5) rotate(-45)">
<text x="0" y="0" font-size="8.0" text-anchor="end" fill="#222" style="stroke-width:0.18px">CD48<tspan font-size="5.9" style="baseline-shift:3.5px;stroke-width:0.12px">+</tspan> CD150<tspan font-size="5.9" style="baseline-shift:3.5px;stroke-width:0.12px">-</tspan> LKS</text>
</g>
<g transform="translate(104.0,270.5) rotate(-45)">
<text x="0" y="0" font-size="8.0" text-anchor="end" fill="#222" style="stroke-width:0.18px">CD48<tspan font-size="5.9" style="baseline-shift:3.5px;stroke-width:0.12px">+</tspan> CD150<tspan font-size="5.9" style="baseline-shift:3.5px;stroke-width:0.12px">+</tspan> LKS</text>
</g>
<g transform="translate(124.2,270.5) rotate(-45)">
<text x="0" y="0" font-size="8.0" text-anchor="end" fill="#222" style="stroke-width:0.18px">MPP</text>
</g>
<g transform="translate(144.5,270.5) rotate(-45)">
<text x="0" y="0" font-size="8.0" text-anchor="end" fill="#222" style="stroke-width:0.18px">LKS SLAM</text>
</g>
<rect x="431.00" y="24.00" width="21.70" height="7.50" fill="#525a6b"/>
<rect x="431.00" y="38.50" width="21.70" height="7.70" fill="#e08b1b"/>
<rect x="431.00" y="53.30" width="21.70" height="7.30" fill="#2c4a82"/>
<text x="456.0" y="31.3" font-size="8.1" font-style="italic" fill="#222" textLength="14.8" lengthAdjust="spacingAndGlyphs">Nras</text>
<text x="471.2" y="27.9" font-size="5.8" font-style="italic" fill="#222" style="stroke-width:0.12px" textLength="8.2" lengthAdjust="spacingAndGlyphs">WT</text>
<text x="456.0" y="45.6" font-size="8.1" font-style="italic" fill="#222" textLength="14.8" lengthAdjust="spacingAndGlyphs">Nras</text>
<text x="471.2" y="42.2" font-size="5.8" font-style="italic" fill="#222" style="stroke-width:0.12px" textLength="24.6" lengthAdjust="spacingAndGlyphs">G12D/WT</text>
<text x="456.0" y="60.3" font-size="8.1" font-style="italic" fill="#222" textLength="14.8" lengthAdjust="spacingAndGlyphs">Nras</text>
<text x="471.2" y="56.9" font-size="5.8" font-style="italic" fill="#222" style="stroke-width:0.12px" textLength="41.5" lengthAdjust="spacingAndGlyphs">G12D;C181S/WT</text>
</svg>
</body></html>
